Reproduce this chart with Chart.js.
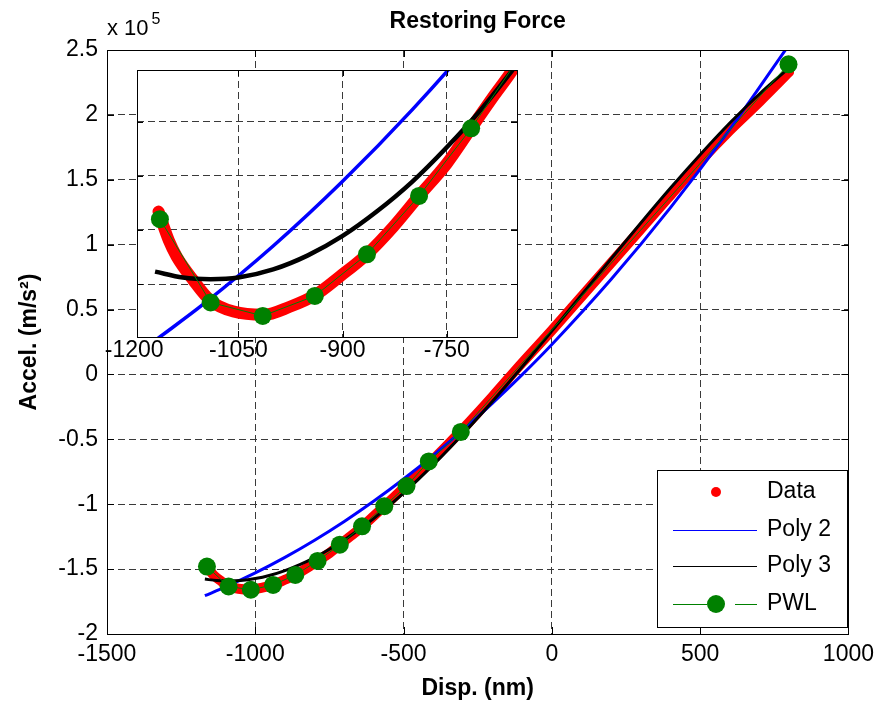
<!DOCTYPE html>
<html>
<head>
<meta charset="utf-8">
<script src="https://cdn.jsdelivr.net/npm/chart.js@4.4.0/dist/chart.umd.min.js"></script>
<style>
html, body { margin: 0; padding: 0; background: #ffffff; }
#wrap { position: relative; width: 881px; height: 702px; }
#wrap canvas { position: absolute; left: 0; top: 0; }
</style>
</head>
<body>
<div id="wrap">
  <canvas id="main" width="881" height="702"></canvas>
  <canvas id="inset" width="881" height="702"></canvas>
</div>
<script>
// ---------------- text ----------------
const TITLE = 'Restoring Force';
const X_LABEL = 'Disp. (nm)';
const Y_LABEL = 'Accel. (m/s²)';
const Y_EXP_BASE = 'x 10';
const Y_EXP_POWER = '5';
const SERIES_LABELS = ['Data', 'Poly 2', 'Poly 3', 'PWL'];

// ---------------- data (x in nm, y in m/s^2) ----------------
const dataX = [-1165, -1150, -1139, -1115, -1090, -1057, -1014, -976, -939, -904, -865, -827, -790, -750, -715, -683, -657, -600, -500, -400, -300, -200, -100, 0, 100, 200, 300, 400, 500, 600, 700, 800];
const dataY = [-146600, -152000, -154900, -159300, -163100, -165100, -165700, -164200, -162000, -158600, -154500, -149400, -143700, -137700, -131200, -125300, -120700, -109000, -87500, -65500, -42000, -17000, 9000, 34000, 60000, 86000, 112000, 138000, 164000, 188000, 210000, 233000];

const poly2X = [-1170, -1100, -1000, -900, -800, -700, -600, -500, -400, -300, -200, -100, 0, 200, 400, 600, 800];
const poly2Y = [-170450, -163690, -152970, -140990, -127770, -113290, -97570, -80590, -62350, -42870, -22130, -150, 23090, 73330, 128570, 188810, 254070];

const poly3X = [-1170, -1130, -1090, -1050, -1000, -950, -900, -850, -800, -750, -700, -650, -600, -500, -400, -300, -200, -100, 0, 100, 200, 300, 400, 500, 600, 700, 790];
const poly3Y = [-157700, -158800, -159100, -158800, -157300, -154700, -151100, -146500, -141100, -134700, -127600, -119500, -110900, -91400, -69700, -45900, -20600, 6000, 33400, 61200, 89100, 116700, 143600, 169300, 193700, 216100, 234300];

const pwlX = [-1163, -1090, -1015, -940, -865, -790, -715, -640, -565, -490, -415, -307, 798];
const pwlY = [-148000, -163400, -165900, -162200, -154500, -143700, -131200, -117000, -101500, -86000, -67000, -44300, 239000];

// ---------------- axes ----------------
const mainXTicks = [-1500, -1000, -500, 0, 500, 1000];
const mainYTicks = [-200000, -150000, -100000, -50000, 0, 50000, 100000, 150000, 200000, 250000];
const insetXTicks = [-1200, -1050, -900, -750];
const insetYTicks = [-160000, -150000, -140000, -130000];
const MAIN_X_RANGE = [-1500, 1000];
const MAIN_Y_RANGE = [-200000, 250000];
const INSET_X_RANGE = [-1196, -649];
const INSET_Y_RANGE = [-169800, -120400];

// ---------------- style ----------------
const FONT = '"Liberation Sans", Arial, Helvetica, sans-serif';
const GRID = '#3a3a3a';
const RED = '#ff0000', BLUE = '#0000ff', BLACK = '#000000', GREEN = '#008000';

function pts(xs, ys) { return xs.map((x, i) => ({ x: x, y: ys[i] })); }

function makeDatasets(inset) {
  return [
    { label: SERIES_LABELS[0], data: pts(dataX, dataY), showLine: true, borderColor: RED, backgroundColor: RED,
      borderWidth: inset ? 12 : 10, borderCapStyle: 'round', borderJoinStyle: 'round', pointRadius: 0,
      cubicInterpolationMode: 'monotone', order: 3, clip: 0 },
    { label: SERIES_LABELS[1], data: pts(poly2X, poly2Y), showLine: true, borderColor: BLUE, backgroundColor: BLUE,
      borderWidth: inset ? 3.5 : 3, pointRadius: 0, cubicInterpolationMode: 'monotone', order: 2, clip: 0 },
    { label: SERIES_LABELS[2], data: pts(poly3X, poly3Y), showLine: true, borderColor: BLACK, backgroundColor: BLACK,
      borderWidth: inset ? 4.5 : 3, pointRadius: 0, cubicInterpolationMode: 'monotone', order: 1, clip: 0 },
    { label: SERIES_LABELS[3], data: pts(pwlX, pwlY), showLine: true, borderColor: GREEN, backgroundColor: GREEN,
      borderWidth: 1, pointRadius: 9, pointBackgroundColor: GREEN, pointBorderColor: GREEN, pointBorderWidth: 0,
      tension: 0, order: 0, clip: 0 }
  ];
}

function frameAndTicks(len) {
  return {
    id: 'frameTicks',
    afterDraw(chart) {
      const { ctx, chartArea: a } = chart;
      const sx = chart.scales.x, sy = chart.scales.y;
      ctx.save();
      ctx.setLineDash([]);
      ctx.strokeStyle = '#000';
      ctx.lineWidth = 1;
      ctx.beginPath();
      sx.ticks.forEach(t => {
        if (t.value <= sx.min || t.value >= sx.max) return;
        const p = Math.round(sx.getPixelForValue(t.value)) + 0.5;
        ctx.moveTo(p, a.bottom); ctx.lineTo(p, a.bottom - len);
        ctx.moveTo(p, a.top); ctx.lineTo(p, a.top + len);
      });
      sy.ticks.forEach(t => {
        if (t.value <= sy.min || t.value >= sy.max) return;
        const p = Math.round(sy.getPixelForValue(t.value)) + 0.5;
        ctx.moveTo(a.left, p); ctx.lineTo(a.left + len, p);
        ctx.moveTo(a.right, p); ctx.lineTo(a.right - len, p);
      });
      ctx.stroke();
      ctx.strokeRect(Math.round(a.left) + 0.5, Math.round(a.top) + 0.5,
                     Math.round(a.right - a.left), Math.round(a.bottom - a.top));
      ctx.restore();
    }
  };
}

const mainTextPlugin = {
  id: 'mainText',
  afterDraw(chart) {
    const { ctx, chartArea: a } = chart;
    ctx.save();
    ctx.fillStyle = '#000';
    ctx.textBaseline = 'middle';
    ctx.textAlign = 'center';
    ctx.font = 'bold 23px ' + FONT;
    ctx.fillText(TITLE, (a.left + a.right) / 2, 22);
    ctx.textAlign = 'left';
    ctx.textBaseline = 'alphabetic';
    ctx.font = '22px ' + FONT;
    ctx.fillText(Y_EXP_BASE, a.left, 35);
    const w = ctx.measureText(Y_EXP_BASE).width;
    ctx.font = '16px ' + FONT;
    ctx.fillText(Y_EXP_POWER, a.left + w + 3, 24);
    ctx.restore();
  }
};

const legendPlugin = {
  id: 'mLegend',
  afterDraw(chart) {
    const ctx = chart.ctx;
    const box = { x: 657, y: 470, w: 190, h: 157 };
    const rows = [492, 530, 566, 604];
    const lx0 = 673, lx1 = 757, mx = 716, tx = 767;
    const ds = chart.data.datasets;
    ctx.save();
    ctx.setLineDash([]);
    ctx.fillStyle = '#fff';
    ctx.fillRect(box.x, box.y, box.w, box.h);
    ctx.strokeStyle = '#000';
    ctx.lineWidth = 1;
    ctx.strokeRect(box.x + 0.5, box.y + 0.5, box.w, box.h);
    ctx.font = '23px ' + FONT;
    ctx.textBaseline = 'middle';
    ctx.textAlign = 'left';
    ds.forEach((d, i) => {
      const y = rows[i];
      if (i === 0) {
        ctx.fillStyle = d.borderColor;
        ctx.beginPath(); ctx.arc(mx, y, 5, 0, Math.PI * 2); ctx.fill();
      } else if (i === 3) {
        ctx.strokeStyle = d.borderColor; ctx.lineWidth = 1;
        ctx.beginPath();
        ctx.moveTo(lx0, y + 0.5); ctx.lineTo(mx - 9, y + 0.5);
        ctx.moveTo(mx + 19, y + 0.5); ctx.lineTo(lx1, y + 0.5);
        ctx.stroke();
        ctx.fillStyle = d.pointBackgroundColor;
        ctx.beginPath(); ctx.arc(mx, y, 9, 0, Math.PI * 2); ctx.fill();
      } else {
        ctx.strokeStyle = d.borderColor; ctx.lineWidth = 1;
        ctx.beginPath(); ctx.moveTo(lx0, y + 0.5); ctx.lineTo(lx1, y + 0.5); ctx.stroke();
      }
      ctx.fillStyle = '#000';
      ctx.fillText(d.label, tx, y);
    });
    ctx.restore();
  }
};

const insetBgPlugin = {
  id: 'insetBg',
  beforeDraw(chart) {
    const { ctx, chartArea: a } = chart;
    ctx.save();
    ctx.fillStyle = '#fff';
    ctx.fillRect(a.left, a.top, a.right - a.left, a.bottom - a.top);
    ctx.restore();
  }
};

const tickFont = { family: FONT, size: 23 };
const titleFont = { family: FONT, size: 23, weight: 'bold' };

new Chart(document.getElementById('main'), {
  type: 'scatter',
  data: { datasets: makeDatasets(false) },
  options: {
    responsive: false, animation: false, devicePixelRatio: 1,
    layout: { padding: { left: 0, right: 30, top: 50, bottom: 0 } },
    plugins: { legend: { display: false }, tooltip: { enabled: false }, title: { display: false } },
    scales: {
      x: {
        type: 'linear', min: MAIN_X_RANGE[0], max: MAIN_X_RANGE[1],
        afterBuildTicks: s => { s.ticks = mainXTicks.map(v => ({ value: v })); },
        afterFit: s => { s.height = 68; },
        grid: { color: GRID, lineWidth: 1, drawTicks: false },
        border: { display: false, dash: [7, 4] },
        ticks: { padding: 7, color: '#000', font: tickFont, autoSkip: false, maxRotation: 0, callback: v => String(v) },
        title: { display: true, text: X_LABEL, color: '#000', font: titleFont, padding: { top: 0, bottom: 0 } }
      },
      y: {
        type: 'linear', min: MAIN_Y_RANGE[0], max: MAIN_Y_RANGE[1],
        afterBuildTicks: s => { s.ticks = mainYTicks.map(v => ({ value: v })); },
        afterFit: s => { s.width = 107; },
        grid: { color: GRID, lineWidth: 1, drawTicks: false },
        border: { display: false, dash: [7, 4] },
        ticks: { padding: 9, color: '#000', font: tickFont, autoSkip: false, callback: v => String(Math.round(v / 1e4) / 10) },
        title: { display: true, text: Y_LABEL, color: '#000', font: titleFont, padding: { top: 16, bottom: 0 } }
      }
    }
  },
  plugins: [frameAndTicks(7), mainTextPlugin, legendPlugin]
});

new Chart(document.getElementById('inset'), {
  type: 'scatter',
  data: { datasets: makeDatasets(true) },
  options: {
    responsive: false, animation: false, devicePixelRatio: 1,
    layout: { padding: { left: 137, right: 364, top: 70, bottom: 0 } },
    plugins: { legend: { display: false }, tooltip: { enabled: false }, title: { display: false } },
    scales: {
      x: {
        type: 'linear', min: INSET_X_RANGE[0], max: INSET_X_RANGE[1],
        afterBuildTicks: s => { s.ticks = insetXTicks.map(v => ({ value: v })); },
        afterFit: s => { s.height = 365; },
        grid: { color: c => (c.tick && c.tick.value < INSET_X_RANGE[0]) ? 'rgba(0,0,0,0)' : GRID, lineWidth: 1, drawTicks: false },
        border: { display: false, dash: [7, 4] },
        ticks: { padding: 0, color: '#000', font: tickFont, autoSkip: false, maxRotation: 0, callback: v => String(v) }
      },
      y: {
        type: 'linear', min: INSET_Y_RANGE[0], max: INSET_Y_RANGE[1],
        afterBuildTicks: s => { s.ticks = insetYTicks.map(v => ({ value: v })); },
        afterFit: s => { s.width = 0; },
        grid: { color: GRID, lineWidth: 1, drawTicks: false },
        border: { display: false, dash: [7, 4] },
        ticks: { display: false }
      }
    }
  },
  plugins: [insetBgPlugin, frameAndTicks(6)]
});
</script>
</body>
</html>
